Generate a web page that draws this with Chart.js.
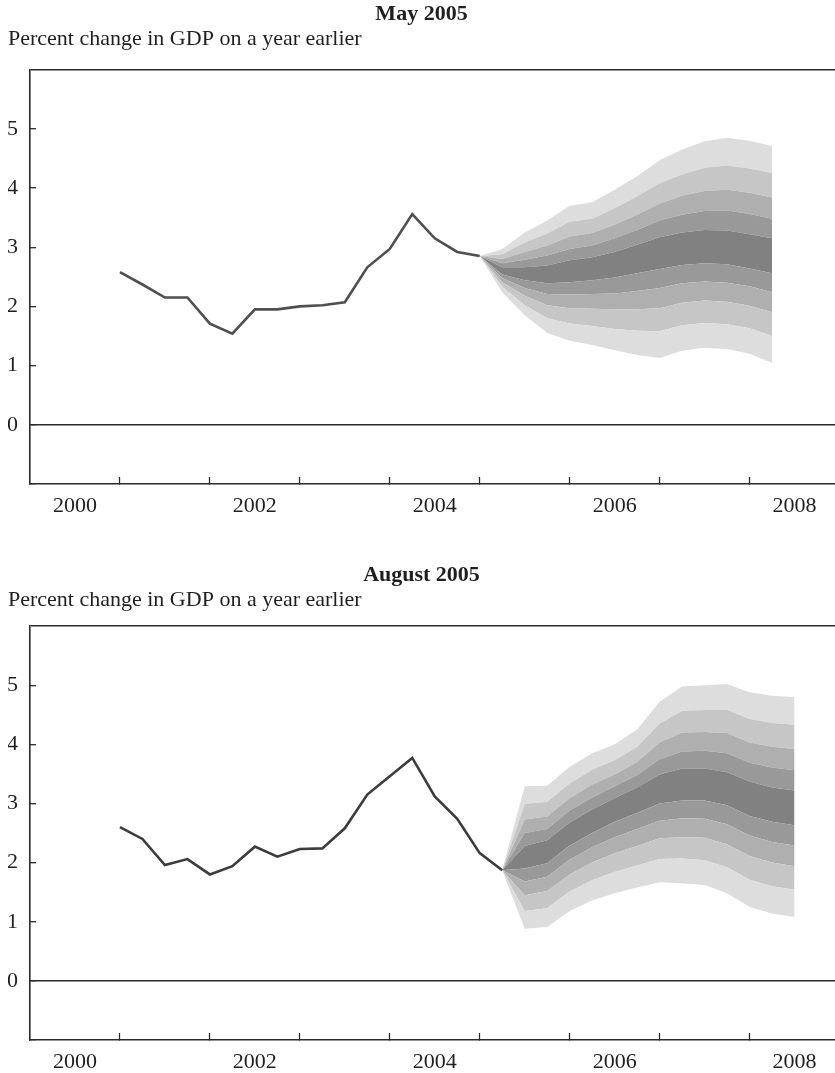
<!DOCTYPE html>
<html>
<head>
<meta charset="utf-8">
<script src="https://cdn.jsdelivr.net/npm/chart.js@4.4.1/dist/chart.umd.min.js"></script>
<style>
  body { margin: 0; background: #fff; }
  .box { position: relative; width: 835px; }
  canvas { display: block; }
</style>
</head>
<body>
<div class="box"><canvas id="may" width="835" height="545"></canvas></div>
<div class="box"><canvas id="aug" width="835" height="528"></canvas></div>
<script>
// axis ticks and labels
const yearTicks = [2001, 2002, 2003, 2004, 2005, 2006, 2007, 2008];
const yearLabels = ['2000', '2002', '2004', '2006', '2008'];

// ---- May 2005 ----
const mayHistDates = [2001.0, 2001.25, 2001.5, 2001.75, 2002.0, 2002.25, 2002.5, 2002.75,
  2003.0, 2003.25, 2003.5, 2003.75, 2004.0, 2004.25, 2004.5, 2004.75, 2005.0];
const mayHist = [2.58, 2.37, 2.15, 2.15, 1.71, 1.54, 1.95, 1.95, 2.0, 2.02, 2.07, 2.66, 2.97, 3.56, 3.15, 2.92, 2.85];

const mayFanDates = [2005.0, 2005.25, 2005.5, 2005.75, 2006.0, 2006.25, 2006.5, 2006.75,
  2007.0, 2007.25, 2007.5, 2007.75, 2008.0, 2008.25];
// band edges, from outer lower to outer upper
const mayLow5 = [2.85, 2.24, 1.85, 1.55, 1.42, 1.35, 1.26, 1.18, 1.13, 1.25, 1.30, 1.28, 1.20, 1.05];
const mayLow4 = [2.85, 2.33, 2.02, 1.80, 1.71, 1.67, 1.62, 1.59, 1.58, 1.68, 1.72, 1.70, 1.63, 1.50];
const mayLow3 = [2.85, 2.41, 2.18, 2.02, 1.97, 1.96, 1.95, 1.95, 1.97, 2.06, 2.10, 2.08, 2.01, 1.90];
const mayLow2 = [2.85, 2.48, 2.31, 2.21, 2.20, 2.21, 2.22, 2.26, 2.31, 2.39, 2.42, 2.40, 2.34, 2.24];
const mayLow1 = [2.85, 2.54, 2.44, 2.39, 2.41, 2.44, 2.49, 2.56, 2.63, 2.70, 2.73, 2.71, 2.64, 2.56];
const mayUp1 = [2.85, 2.66, 2.66, 2.69, 2.78, 2.83, 2.92, 3.04, 3.17, 3.25, 3.29, 3.28, 3.22, 3.15];
const mayUp2 = [2.85, 2.73, 2.79, 2.86, 2.97, 3.03, 3.15, 3.29, 3.45, 3.55, 3.61, 3.62, 3.56, 3.48];
const mayUp3 = [2.85, 2.80, 2.92, 3.03, 3.18, 3.24, 3.38, 3.55, 3.74, 3.87, 3.95, 3.97, 3.92, 3.84];
const mayUp4 = [2.85, 2.88, 3.08, 3.23, 3.43, 3.48, 3.66, 3.86, 4.08, 4.23, 4.34, 4.38, 4.33, 4.25];
const mayUp5 = [2.85, 2.97, 3.25, 3.45, 3.70, 3.76, 3.97, 4.20, 4.47, 4.65, 4.79, 4.85, 4.80, 4.71];

// ---- August 2005 ----
const augHistDates = [2001.0, 2001.25, 2001.5, 2001.75, 2002.0, 2002.25, 2002.5, 2002.75,
  2003.0, 2003.25, 2003.5, 2003.75, 2004.0, 2004.25, 2004.5, 2004.75, 2005.0, 2005.25];
const augHist = [2.60, 2.40, 1.96, 2.06, 1.80, 1.94, 2.27, 2.10, 2.23, 2.24, 2.58, 3.15, 3.46, 3.77, 3.12, 2.74, 2.16, 1.87];

const augFanDates = [2005.25, 2005.5, 2005.75, 2006.0, 2006.25, 2006.5, 2006.75, 2007.0,
  2007.25, 2007.5, 2007.75, 2008.0, 2008.25, 2008.5];
const augLow5 = [1.87, 0.88, 0.91, 1.18, 1.36, 1.48, 1.58, 1.67, 1.65, 1.62, 1.48, 1.25, 1.14, 1.08];
const augLow4 = [1.87, 1.18, 1.23, 1.51, 1.70, 1.84, 1.95, 2.06, 2.07, 2.04, 1.92, 1.71, 1.60, 1.54];
const augLow3 = [1.87, 1.45, 1.52, 1.80, 2.00, 2.16, 2.28, 2.41, 2.43, 2.42, 2.31, 2.11, 2.00, 1.94];
const augLow2 = [1.87, 1.68, 1.76, 2.05, 2.26, 2.43, 2.57, 2.71, 2.75, 2.74, 2.65, 2.46, 2.35, 2.29];
const augLow1 = [1.87, 1.90, 1.99, 2.29, 2.50, 2.69, 2.84, 3.00, 3.05, 3.05, 2.97, 2.79, 2.69, 2.63];
const augUp1 = [1.87, 2.28, 2.38, 2.68, 2.90, 3.09, 3.27, 3.49, 3.59, 3.59, 3.53, 3.37, 3.27, 3.22];
const augUp2 = [1.87, 2.50, 2.57, 2.88, 3.10, 3.29, 3.48, 3.75, 3.88, 3.89, 3.85, 3.69, 3.61, 3.56];
const augUp3 = [1.87, 2.73, 2.78, 3.09, 3.32, 3.49, 3.70, 4.03, 4.20, 4.21, 4.19, 4.03, 3.96, 3.92];
const augUp4 = [1.87, 2.99, 3.03, 3.34, 3.57, 3.73, 3.96, 4.35, 4.57, 4.58, 4.58, 4.43, 4.36, 4.33];
const augUp5 = [1.87, 3.29, 3.30, 3.62, 3.85, 4.00, 4.25, 4.72, 4.98, 5.00, 5.02, 4.88, 4.82, 4.80];

// shades: outer band ... central band ... outer band
const fanShades = ['#dddddd', '#c6c6c6', '#afafaf', '#999999', '#818181',
  '#999999', '#afafaf', '#c6c6c6', '#dddddd'];

const ink = '#1f1f1f';
const serif = 'Liberation Serif';

function toPoints(dates, values) {
  return values.map((v, i) => ({ x: dates[i], y: v }));
}

function makeChart(id, cfg) {
  const edges = cfg.edges;
  const datasets = edges.map((edge, i) => ({
    data: toPoints(cfg.fanDates, edge),
    borderWidth: 0,
    pointRadius: 0,
    backgroundColor: i === 0 ? 'transparent' : fanShades[i - 1],
    fill: i === 0 ? false : '-1',
    order: 1
  }));
  datasets.push({
    data: toPoints(cfg.histDates, cfg.hist),
    borderColor: cfg.lineColor,
    borderWidth: 2.6,
    pointRadius: 0,
    fill: false,
    order: 0
  });

  return new Chart(document.getElementById(id), {
    type: 'line',
    data: { datasets: datasets },
    options: {
      responsive: false,
      animation: false,
      layout: { padding: { left: 8, right: 0, top: cfg.padTop, bottom: 0 } },
      plugins: {
        legend: { display: false },
        tooltip: { enabled: false },
        title: {
          display: true,
          text: cfg.title,
          color: ink,
          font: { family: serif, size: 22, weight: 'bold', lineHeight: 1.1 },
          padding: { top: 2, bottom: 0 }
        },
        subtitle: {
          display: true,
          text: 'Percent change in GDP on a year earlier',
          align: 'start',
          color: ink,
          font: { family: serif, size: 22, lineHeight: 1.2 },
          padding: { top: 0, bottom: cfg.subPad }
        }
      },
      scales: {
        x: {
          type: 'linear',
          min: 2000,
          max: 2008.95,
          afterBuildTicks: (s) => {
            const labelPos = yearLabels.map(y => Number(y) + 0.5);
            s.ticks = yearTicks.concat(labelPos).sort((a, b) => a - b).map(v => ({ value: v }));
          },
          afterFit: (s) => { s.height = cfg.xHeight; },
          ticks: {
            autoSkip: false,
            maxRotation: 0,
            padding: 16,
            color: ink,
            font: { family: serif, size: 22 },
            callback: (v) => {
              const y = String(v - 0.5);
              return yearLabels.includes(y) ? y : '';
            }
          },
          grid: {
            drawOnChartArea: false,
            tickLength: -7,
            tickWidth: 1.3,
            tickColor: (ctx) => yearTicks.includes(ctx.tick.value) ? '#2a2a2a' : 'transparent'
          },
          border: { color: '#2a2a2a', width: 1.6 }
        },
        y: {
          min: -1,
          max: 6,
          afterFit: (s) => { s.width = 22; },
          ticks: {
            stepSize: 1,
            padding: 18,
            color: ink,
            font: { family: serif, size: 22 },
            callback: (v) => (v >= 0 && v <= 5) ? v : ''
          },
          grid: {
            tickLength: -6,
            tickWidth: 1.3,
            lineWidth: 1.4,
            color: (ctx) => (ctx.tick.value === 0 || ctx.tick.value === 6) ? '#2a2a2a' : 'transparent',
            tickColor: (ctx) => ctx.tick.value < 6 ? '#2a2a2a' : 'transparent'
          },
          border: { color: '#2a2a2a', width: 1.6 }
        }
      }
    }
  });
}

makeChart('may', {
  title: 'May 2005',
  padTop: 0,
  subPad: 17,
  xHeight: 61,
  lineColor: '#4f4f4f',
  histDates: mayHistDates,
  hist: mayHist,
  fanDates: mayFanDates,
  edges: [mayLow5, mayLow4, mayLow3, mayLow2, mayLow1, mayUp1, mayUp2, mayUp3, mayUp4, mayUp5]
});

makeChart('aug', {
  title: 'August 2005',
  padTop: 16,
  subPad: 12.5,
  xHeight: 33,
  lineColor: '#3c3c3c',
  histDates: augHistDates,
  hist: augHist,
  fanDates: augFanDates,
  edges: [augLow5, augLow4, augLow3, augLow2, augLow1, augUp1, augUp2, augUp3, augUp4, augUp5]
});
</script>
</body>
</html>
